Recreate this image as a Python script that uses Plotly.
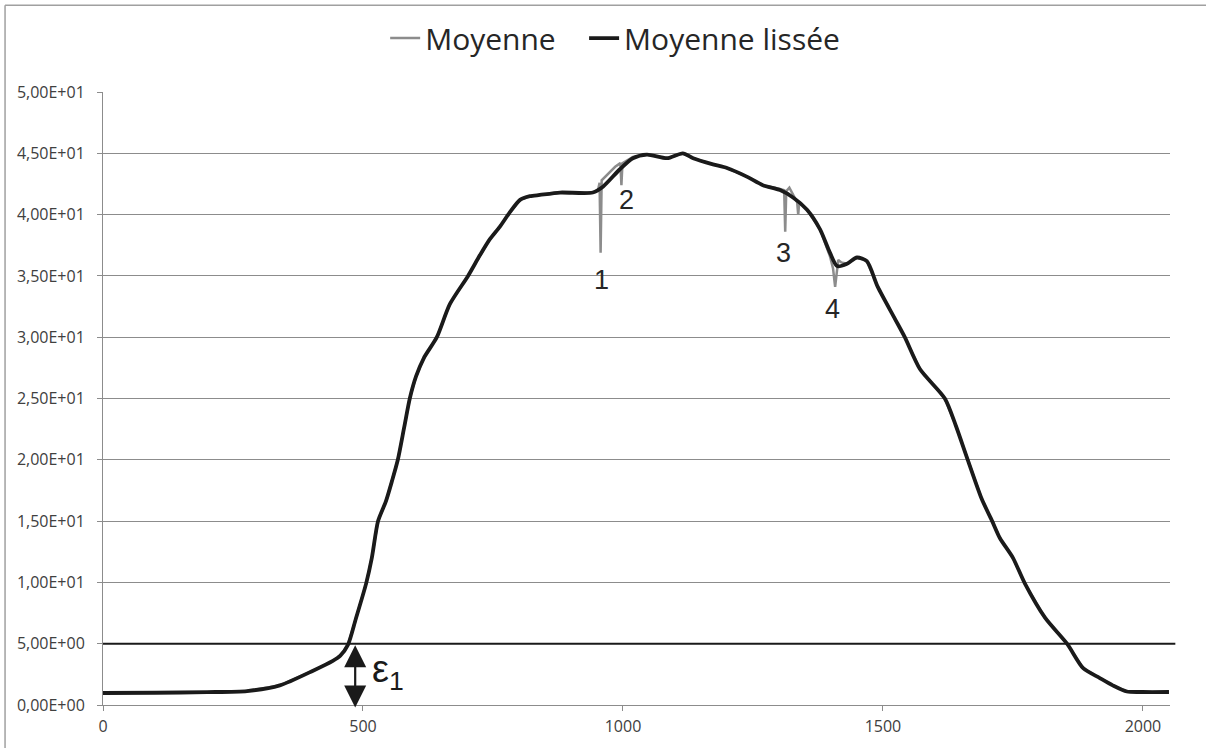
import plotly.graph_objects as go

# ---- data ----
x_lisse = [0, 100, 200, 277, 340, 404, 442, 456, 471, 486, 506, 517, 529, 544, 556, 567, 579, 590,
           602, 617, 642, 667, 702, 725, 744, 763, 781, 802, 821, 840, 879, 942, 962, 994, 1019,
           1046, 1085, 1115, 1135, 1173, 1200, 1238, 1269, 1302, 1327, 1354, 1379, 1398, 1412,
           1431, 1450, 1469, 1490, 1523, 1542, 1571, 1619, 1640, 1663, 1690, 1710, 1725, 1750,
           1773, 1812, 1854, 1885, 1917, 1942, 1969, 2000, 2050]
y_lisse = [0.98, 1.0, 1.05, 1.14, 1.6, 2.8, 3.6, 4.0, 4.9, 7.0, 9.9, 12.0, 15.0, 16.6, 18.3, 20.0,
           22.6, 25.0, 26.8, 28.3, 30.0, 32.7, 35.0, 36.7, 38.0, 39.0, 40.1, 41.2, 41.5, 41.6, 41.8,
           41.8, 42.3, 43.7, 44.6, 44.9, 44.6, 45.0, 44.6, 44.1, 43.8, 43.1, 42.4, 42.0, 41.4, 40.4,
           38.8, 36.9, 35.8, 36.0, 36.5, 36.2, 34.1, 31.5, 30.0, 27.4, 25.0, 22.8, 20.0, 16.8, 15.0,
           13.6, 12.0, 9.9, 7.1, 5.0, 3.0, 2.2, 1.6, 1.1, 1.06, 1.06]

x_moy = [0, 100, 200, 277, 340, 404, 442, 456, 471, 486, 506, 517, 529, 544, 556, 567, 579, 590,
         602, 617, 642, 667, 702, 725, 744, 763, 781, 802, 821, 840, 879, 942, 952, 955, 957, 959,
         970, 985, 995, 997, 999, 1019, 1046, 1085, 1115, 1135, 1173, 1200, 1238, 1269, 1302,
         1310, 1312, 1314, 1320, 1327, 1335, 1337, 1339, 1354, 1379, 1398, 1404, 1408, 1411, 1414,
         1420, 1431, 1450, 1469, 1490, 1523, 1542, 1571, 1619, 1640, 1663, 1690, 1710, 1725, 1750,
         1773, 1812, 1854, 1885, 1917, 1942, 1969, 2000, 2050]
y_moy = [0.98, 1.0, 1.05, 1.14, 1.6, 2.8, 3.6, 4.0, 4.9, 7.0, 9.9, 12.0, 15.0, 16.6, 18.3, 20.0,
         22.6, 25.0, 26.8, 28.3, 30.0, 32.7, 35.0, 36.7, 38.0, 39.0, 40.1, 41.2, 41.5, 41.6, 41.8,
         41.8, 42.0, 42.6, 36.9, 42.8, 43.3, 43.9, 44.2, 42.4, 44.2, 44.7, 44.9, 44.6, 45.0, 44.6,
         44.1, 43.8, 43.1, 42.4, 42.1, 42.0, 38.6, 41.9, 42.2, 41.6, 41.0, 40.0, 41.0, 40.4, 38.8,
         36.6, 35.6, 34.1, 35.2, 36.3, 36.1, 36.0, 36.5, 36.2, 34.1, 31.5, 30.0, 27.4, 25.0, 22.8,
         20.0, 16.8, 15.0, 13.6, 12.0, 9.9, 7.1, 5.0, 3.0, 2.2, 1.6, 1.1, 1.06, 1.06]

y_ticks = [0, 5, 10, 15, 20, 25, 30, 35, 40, 45, 50]
y_ticktext = ["0,00E+00", "5,00E+00", "1,00E+01", "1,50E+01", "2,00E+01", "2,50E+01",
              "3,00E+01", "3,50E+01", "4,00E+01", "4,50E+01", "5,00E+01"]
x_ticks = [0, 500, 1000, 1500, 2000]
x_ticktext = ["0", "500", "1000", "1500", "2000"]

seuil = 5.0
epsilon_x = 485
labels_txt = ["1", "2", "3", "4"]
labels_x = [958, 1006, 1308, 1402]
labels_y = [34.7, 41.2, 36.9, 32.3]

# ---- figure ----
fig = go.Figure()
fig.add_trace(go.Scatter(x=x_moy, y=y_moy, mode="lines", name="Moyenne\u00a0\u00a0\u00a0",
                         line=dict(color="#8c8c8c", width=2.5)))
fig.add_trace(go.Scatter(x=x_lisse, y=y_lisse, mode="lines", name="Moyenne lissée",
                         line=dict(color="#1a1a1a", width=3.8, shape="spline", smoothing=0.7)))

grid = "#8c8c8c"
fig.update_layout(
    width=1206, height=749,
    margin=dict(l=103, r=36, t=92, b=42),
    paper_bgcolor="white", plot_bgcolor="white",
    showlegend=True,
    legend=dict(orientation="h", x=0.48, xanchor="center", y=1.088, yanchor="middle",
                font=dict(family="Open Sans", size=30, color="#262626"),
                itemwidth=30, bgcolor="rgba(0,0,0,0)"),
    xaxis=dict(range=[0, 2052], tickvals=x_ticks, ticktext=x_ticktext, showgrid=False,
               zeroline=False, showline=True, linecolor=grid, linewidth=1,
               ticks="outside", ticklen=5, tickcolor=grid, ticklabelstandoff=2,
               tickfont=dict(family="Open Sans", size=16, color="#404040")),
    yaxis=dict(range=[0, 50], tickvals=y_ticks, ticktext=y_ticktext, showgrid=True,
               gridcolor=grid, gridwidth=1, zeroline=False, showline=True, linecolor=grid,
               linewidth=1, ticks="outside", ticklen=5, tickcolor=grid,
               ticklabelstandoff=9,
               tickfont=dict(family="Open Sans", size=16, color="#404040")),
)

# threshold line
fig.add_shape(type="line", xref="paper", yref="y", x0=0, x1=1.005, y0=seuil, y1=seuil,
              line=dict(color="#1a1a1a", width=2))

# outer frame (top and left)
fig.add_shape(type="line", xref="paper", yref="paper", x0=-0.0918, x1=1.04, y0=1.1415, y1=1.1415,
              line=dict(color="#a0a0a0", width=1.5))
fig.add_shape(type="line", xref="paper", yref="paper", x0=-0.0918, x1=-0.0918, y0=-0.07, y1=1.1415,
              line=dict(color="#a0a0a0", width=1.5))

# epsilon double arrow
fig.add_annotation(x=epsilon_x, y=-0.2, ax=epsilon_x, ay=seuil, xref="x", yref="y",
                   axref="x", ayref="y", text="", showarrow=True, arrowhead=2,
                   startarrowhead=2, arrowside="end+start", arrowwidth=2.2, arrowsize=2.0,
                   startarrowsize=2.0, arrowcolor="#1a1a1a", standoff=0, startstandoff=0)
fig.add_annotation(x=513, y=2.7, xref="x", yref="y", text="ε<sub>1</sub>",
                   showarrow=False, xanchor="left",
                   font=dict(family="Liberation Sans", size=38, color="#1a1a1a"))

for t, lx, ly in zip(labels_txt, labels_x, labels_y):
    fig.add_annotation(x=lx, y=ly, xref="x", yref="y", text=t, showarrow=False,
                       font=dict(family="Liberation Sans", size=27, color="#262626"))

fig.write_html("out.html", config={"displayModeBar": False},
               post_script="document.body.style.margin='0px';")
